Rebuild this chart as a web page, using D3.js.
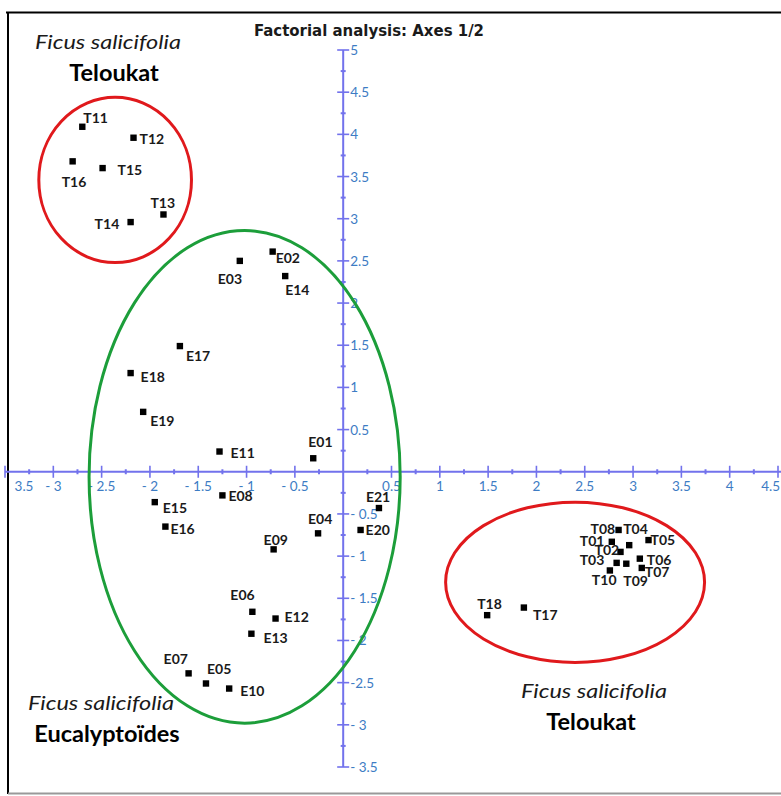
<!DOCTYPE html>
<html><head><meta charset="utf-8">
<script src="https://cdn.jsdelivr.net/npm/d3@7"></script>
<style>body{margin:0;background:#fff} svg{display:block}</style>
</head><body>
<svg id="c" width="781" height="796"></svg>
<script>
// ---- data ----
const pointNames = ["T11","T12","T13","T14","T15","T16",
  "E01","E02","E03","E04","E05","E06","E07","E08","E09","E10","E11","E12","E13","E14","E15","E16","E17","E18","E19","E20","E21",
  "T01","T02","T03","T04","T05","T06","T07","T08","T09","T10","T17","T18"];
const axis1 = [-2.70,-2.17,-1.86,-2.20,-2.49,-2.80,
  -0.31,-0.73,-1.07,-0.26,-1.42,-0.94,-1.60,-1.25,-0.72,-1.18,-1.28,-0.70,-0.95,-0.60,-1.95,-1.84,-1.69,-2.20,-2.07,0.18,0.37,
  2.78,2.87,2.83,2.96,3.16,3.07,3.09,2.85,2.93,2.76,1.87,1.49];
const axis2 = [4.09,3.96,3.05,2.96,3.60,3.68,
  0.16,2.61,2.50,-0.73,-2.51,-1.66,-2.39,-0.28,-0.92,-2.57,0.24,-1.74,-1.92,2.32,-0.36,-0.65,1.49,1.17,0.71,-0.69,-0.43,
  -0.83,-0.95,-1.08,-0.87,-0.81,-1.03,-1.14,-0.69,-1.09,-1.17,-1.61,-1.70];

const xTickValues = [-3.5,-3,-2.5,-2,-1.5,-1,-0.5,0.5,1,1.5,2,2.5,3,3.5,4,4.5];
const xTickLabels = ["3.5","- 3","- 2.5","- 2","- 1.5","- 1","- 0.5","0.5","1","1.5","2","2.5","3","3.5","4","4.5"];
const yTickValues = [-3.5,-3,-2.5,-2,-1.5,-1,-0.5,0.5,1,1.5,2,2.5,3,3.5,4,4.5,5];
const yTickLabels = ["- 3.5","- 3","-2.5","- 2","- 1.5","- 1","- 0.5","0.5","1","1.5","2","2.5","3","3.5","4","4.5","5"];

const groupSpecies = ["Ficus salicifolia","Ficus salicifolia","Ficus salicifolia"];
const groupNames = ["Teloukat","Eucalyptoïdes","Teloukat"];
const ellipseCx = [-2.36,-1.02,2.40];
const ellipseCy = [3.46,-0.06,-1.31];
const ellipseRx = [0.79,1.61,1.34];
const ellipseRy = [0.98,2.92,0.95];
const ellipseColor = ["#e0191c","#1c9e3a","#e0191c"];

const titleText = "Factorial analysis: Axes 1/2";

// label placement (px offsets: text start, baseline)
const labelOffsets = {
  T11:[1,-4],T12:[6,6],T13:[-13,-6],T14:[-36,7],T15:[15,7],T16:[-11,26],
  E01:[-5,-11],E02:[3,11],E03:[-22,23],E04:[-10,-9],E05:[1,-9],E06:[-22,-12],E07:[-25,-9],E08:[6,6],
  E09:[-10,-4],E10:[11,7],E11:[11,6],E12:[9,3],E13:[12,9],E14:[0,19],E15:[8,11],E16:[5,7],E17:[6,15],
  E18:[10,9],E19:[7,14],E20:[5,5],E21:[-13,-6],
  T01:[-32,4],T02:[-26,3],T03:[-37,2],T04:[-6,-11],T05:[2,5],T06:[7,6],T07:[3,9],T08:[-28,4],
  T09:[-3,22],T10:[-18,15],T17:[9,12],T18:[-10,-6]
};

// ---- drawing ----
const svg = d3.select("#c");
const x = d3.scaleLinear().domain([-3.5,4.5]).range([5,778]);
const y = d3.scaleLinear().domain([-3.5,5]).range([767,50]);
const axisColor = "#7272ec";
const tickTextColor = "#3d7cc4";

// frame
svg.append("line").attr("x1",6).attr("x2",781).attr("y1",12.5).attr("y2",12.5).attr("stroke","#000").attr("stroke-width",2);
svg.append("line").attr("x1",8).attr("x2",8).attr("y1",12).attr("y2",794).attr("stroke","#000").attr("stroke-width",2);
svg.append("line").attr("x1",8).attr("x2",781).attr("y1",793.5).attr("y2",793.5).attr("stroke","#999").attr("stroke-width",2);

// axes
const ax = svg.append("g");
ax.append("line").attr("x1",x(-3.5)).attr("x2",781).attr("y1",y(0)).attr("y2",y(0)).attr("stroke",axisColor).attr("stroke-width",2);
ax.append("line").attr("x1",x(0)).attr("x2",x(0)).attr("y1",y(5)).attr("y2",y(-3.5)).attr("stroke",axisColor).attr("stroke-width",2);
// minor ticks
const xMinor = d3.range(-3.25,4.5,0.5);
const yMinor = d3.range(-3.25,5,0.5);
ax.selectAll(".xm").data(xMinor).join("line").attr("x1",d=>x(d)).attr("x2",d=>x(d))
  .attr("y1",y(0)-2.5).attr("y2",y(0)+2.5).attr("stroke",axisColor).attr("stroke-width",2);
ax.selectAll(".ym").data(yMinor).join("line").attr("y1",d=>y(d)).attr("y2",d=>y(d))
  .attr("x1",x(0)-2.5).attr("x2",x(0)+2.5).attr("stroke",axisColor).attr("stroke-width",2);
// major ticks
ax.selectAll(".xM").data(xTickValues).join("line").attr("x1",d=>x(d)).attr("x2",d=>x(d))
  .attr("y1",y(0)-6).attr("y2",y(0)+6).attr("stroke",axisColor).attr("stroke-width",1.6);
ax.selectAll(".yM").data(yTickValues).join("line").attr("y1",d=>y(d)).attr("y2",d=>y(d))
  .attr("x1",x(0)-6).attr("x2",x(0)+6).attr("stroke",axisColor).attr("stroke-width",1.6);
// tick labels
const nX = xTickValues.length;
ax.selectAll(".xl").data(xTickValues).join("text")
  .attr("x",(d,i)=> i===0 ? x(d)+19 : (i===nX-1 ? x(d)+2 : x(d)))
  .attr("y",y(0)+19).attr("text-anchor",(d,i)=> i===nX-1 ? "end" : "middle")
  .attr("font-family","Lato, 'Open Sans', sans-serif").attr("font-size",13.5).attr("fill",tickTextColor)
  .text((d,i)=>xTickLabels[i]);
ax.selectAll(".yl").data(yTickValues).join("text")
  .attr("x",x(0)+7).attr("y",d=>y(d)+5).attr("text-anchor","start")
  .attr("font-family","Lato, 'Open Sans', sans-serif").attr("font-size",13.5).attr("fill",tickTextColor)
  .text((d,i)=>yTickLabels[i]);

// ellipses
svg.selectAll(".el").data(ellipseCx).join("ellipse")
  .attr("cx",d=>x(d)).attr("cy",(d,i)=>y(ellipseCy[i]))
  .attr("rx",(d,i)=>x(d+ellipseRx[i])-x(d)).attr("ry",(d,i)=>y(ellipseCy[i])-y(ellipseCy[i]+ellipseRy[i]))
  .attr("fill","none").attr("stroke",(d,i)=>ellipseColor[i]).attr("stroke-width",3);

// points
const pts = pointNames.map((n,i)=>({name:n,a:axis1[i],b:axis2[i]}));
svg.selectAll(".pt").data(pts).join("rect")
  .attr("x",d=>x(d.a)-3.2).attr("y",d=>y(d.b)-3.2).attr("width",6.4).attr("height",6.4).attr("fill","#000");
svg.selectAll(".lb").data(pts).join("text")
  .attr("x",d=>x(d.a)+labelOffsets[d.name][0]).attr("y",d=>y(d.b)+labelOffsets[d.name][1])
  .attr("font-family","Lato, 'Open Sans', sans-serif").attr("font-weight","bold").attr("font-size",14)
  .attr("fill","#1a1a1a").text(d=>d.name);

// title
svg.append("text").attr("x",369).attr("y",36).attr("text-anchor","middle")
  .attr("font-family","'Liberation Sans Narrow','DejaVu Sans Condensed',sans-serif").attr("font-weight","bold")
  .attr("font-size",16).attr("fill","#1a1a1a").attr("textLength",230).attr("lengthAdjust","spacingAndGlyphs").text(titleText);

// group annotations
const annPos = [[108,49,114,81],[101,710,107,742],[594,698,591,730]];
groupNames.forEach((g,i)=>{
  svg.append("text").attr("x",annPos[i][0]).attr("y",annPos[i][1]).attr("text-anchor","middle")
    .attr("font-family","Lato, 'Open Sans', sans-serif").attr("font-style","italic").attr("font-size",19.5)
    .attr("textLength",146).attr("lengthAdjust","spacingAndGlyphs")
    .attr("fill","#1a1a1a").text(groupSpecies[i]);
  svg.append("text").attr("x",annPos[i][2]).attr("y",annPos[i][3]).attr("text-anchor","middle")
    .attr("font-family","Lato, 'Open Sans', sans-serif").attr("font-weight","bold").attr("font-size",23.5)
    .attr("fill","#000").text(g);
});
</script>
</body></html>
